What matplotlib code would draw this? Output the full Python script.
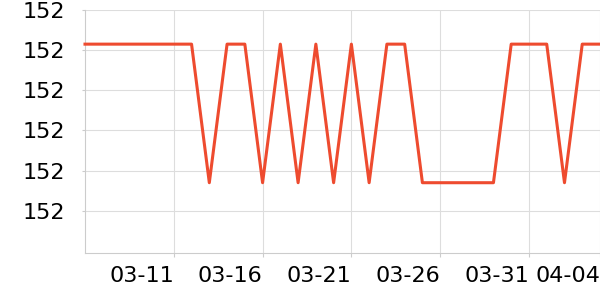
import matplotlib
matplotlib.use("Agg")
import matplotlib.pyplot as plt
import matplotlib.dates as mdates
import pandas as pd
from matplotlib.ticker import FormatStrFormatter

dates = pd.date_range("2024-03-06", "2024-04-04", freq="D")
hi = 152.103
lo = 152.034
pattern = ["H", "H", "H", "H", "H", "H", "H", "L", "H", "H",
           "L", "H", "L", "H", "L", "H", "L", "H", "H", "L",
           "L", "L", "L", "L", "H", "H", "H", "L", "H", "H"]
values = [hi if p == "H" else lo for p in pattern]
yticks = [152.02, 152.04, 152.06, 152.08, 152.10, 152.12]
xtick_dates = pd.to_datetime(["2024-03-11", "2024-03-16", "2024-03-21",
                              "2024-03-26", "2024-03-31", "2024-04-04"])

fig = plt.figure(figsize=(6, 3), dpi=100)
ax = fig.add_axes([85 / 600, 47 / 300, 515 / 600, 243 / 300])

ax.plot(dates, values, color="#ee4b2f", linewidth=2.2, zorder=3, clip_on=False)

ax.set_xlim(dates[0], dates[-1])
ax.set_ylim(152.02 - 0.02 * 1.05, 152.12)
ax.set_yticks(yticks)
ax.yaxis.set_major_formatter(FormatStrFormatter("%.0f"))
ax.set_xticks(xtick_dates)
ax.xaxis.set_major_formatter(mdates.DateFormatter("%m-%d"))
for lbl in ax.get_xticklabels():
    lbl.set_horizontalalignment("right")

ax.grid(True, color="#dddddd", linewidth=0.8)
ax.set_axisbelow(True)
for s in ["top", "right"]:
    ax.spines[s].set_visible(False)
for s in ["left", "bottom"]:
    ax.spines[s].set_color("#cccccc")
ax.tick_params(axis="x", length=3, color="#cccccc", labelsize=16, pad=6.5)
ax.tick_params(axis="y", length=2, color="#cccccc", labelsize=16, pad=12)

fig.savefig("out.png", dpi=100)
